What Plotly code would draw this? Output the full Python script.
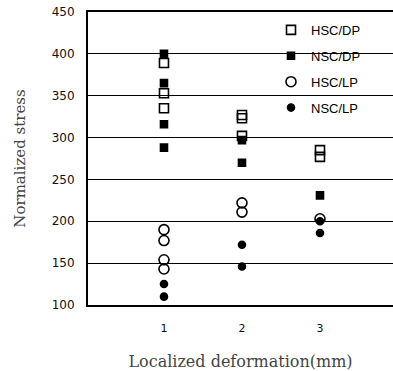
import plotly.graph_objects as go

# Normalized stress readings grouped by localized deformation (mm)
hsc_dp_x = [1, 1, 1, 2, 2, 2, 3, 3]
hsc_dp_y = [389, 353, 335, 327, 323, 302, 285, 277]

nsc_dp_x = [1, 1, 1, 1, 2, 2, 3]
nsc_dp_y = [400, 365, 316, 288, 297, 270, 231]

hsc_lp_x = [1, 1, 1, 1, 2, 2, 3]
hsc_lp_y = [190, 177, 154, 143, 222, 211, 203]

nsc_lp_x = [1, 1, 2, 2, 3, 3]
nsc_lp_y = [125, 110, 172, 146, 200, 186]

x_ticks = [1, 2, 3]
y_ticks = [100, 150, 200, 250, 300, 350, 400, 450]

series = [
    ("HSC/DP", hsc_dp_x, hsc_dp_y, "square-open", 9),
    ("NSC/DP", nsc_dp_x, nsc_dp_y, "square", 7),
    ("HSC/LP", hsc_lp_x, hsc_lp_y, "circle-open", 10),
    ("NSC/LP", nsc_lp_x, nsc_lp_y, "circle", 7),
]

fig = go.Figure()
for name, xs, ys, sym, size in series:
    fig.add_trace(go.Scatter(
        x=xs, y=ys, mode="markers", name=name, legendgroup=name,
        marker=dict(symbol=sym, size=size, color="black",
                    line=dict(color="black", width=1.6)),
    ))

# white panel behind the legend that interrupts the grid lines
fig.add_shape(type="rect", xref="paper", yref="paper",
              x0=0.607, x1=0.957, y0=0.614, y1=0.995,
              fillcolor="white", line=dict(width=0), layer="between")

fig.update_layout(
    width=393, height=371,
    margin=dict(l=88, r=0, t=12, b=66),
    paper_bgcolor="white", plot_bgcolor="white",
    showlegend=True,
    legend=dict(x=0.6, y=0.99, xanchor="left", yanchor="top",
                bgcolor="rgba(0,0,0,0)", tracegroupgap=6,
                itemwidth=30,
                font=dict(family="Liberation Sans", size=13, color="black")),
    font=dict(family="DejaVu Sans", size=12, color="#111"),
)

fig.update_xaxes(
    range=[0.026, 3.936], tickvals=x_ticks, ticktext=[str(v) for v in x_ticks],
    showgrid=False, zeroline=False, showline=True, linecolor="black", linewidth=2,
    mirror=True, ticks="", ticklabelstandoff=12,
    tickfont=dict(family="DejaVu Sans", size=11, color="#111"),
    title=dict(text="Localized deformation(mm)", standoff=22,
               font=dict(family="DejaVu Serif", size=16, color="#444")),
)
fig.update_yaxes(
    range=[100, 450], tickvals=y_ticks,
    showgrid=True, gridcolor="black", gridwidth=1, zeroline=False,
    showline=True, linecolor="black", linewidth=2, ticks="",
    ticklabelstandoff=9,
    tickfont=dict(family="DejaVu Sans", size=12, color="#111"),
    title=dict(text="Normalized stress", standoff=22,
               font=dict(family="DejaVu Serif", size=15, color="#444")),
)

fig.write_html("out.html")
